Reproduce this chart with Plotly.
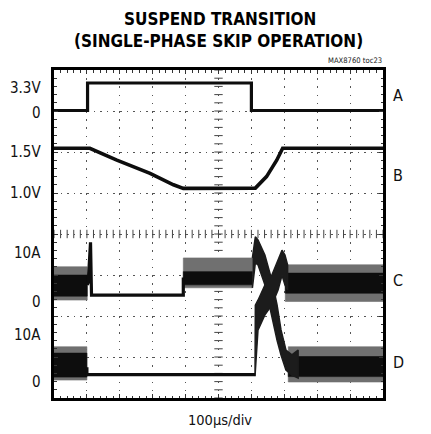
import plotly.graph_objects as go

# ---------------- data read from the scope capture ----------------
# time axis in microseconds (100 us/div, 10 divisions)
a_t = [0, 102, 102, 600, 600, 1000]
a_v = [0.0, 0.0, 3.3, 3.3, 0.0, 0.0]

b_t = [0, 109, 191, 292, 363, 393, 612, 646, 677, 695, 1000]
b_v = [1.545, 1.545, 1.40, 1.24, 1.10, 1.057, 1.06, 1.20, 1.40, 1.545, 1.545]

# channel C (A): clean parts
c_line_t = [101, 104, 111, 114, 393, 393]
c_line_v = [3.5, 4.0, 12.2, 1.4, 1.4, 5.0]
# channel C switching-ripple envelopes
c_noise_t0 = [0, 393, 703]
c_noise_t1 = [101, 603, 1000]
c_outer_lo = [0.4, 2.9, 0.1]
c_outer_hi = [7.2, 9.0, 7.6]
c_inner_lo = [1.2, 3.5, 1.8]
c_inner_hi = [5.5, 6.2, 5.9]
# channel C transient (falling branch of the crossing)
c_cross_t = [603, 612, 620, 641, 662, 678, 690, 705, 723, 742]
c_cross_hi = [9.0, 13.3, 12.7, 9.6, 4.5, -0.6, -5.7, -9.8, -10.8, -9.8]
c_cross_lo = [2.9, 8.0, 7.6, 3.5, -2.7, -7.8, -10.8, -13.9, -14.9, -15.5]

# channel D (A): clean parts
d_line_t = [100, 100, 612]
d_line_v = [3.0, 1.5, 1.5]
d_noise_t0 = [0, 712]
d_noise_t1 = [100, 1000]
d_outer_lo = [0.4, 0.0]
d_outer_hi = [7.2, 7.2]
d_inner_lo = [1.0, 1.1]
d_inner_hi = [5.9, 5.2]
# channel D transient (rising branch of the crossing)
d_cross_t = [611, 612, 620, 641, 662, 681, 693, 702, 710]
d_cross_hi = [1.8, 15.7, 16.7, 19.8, 21.8, 24.9, 26.9, 25.9, 23.9]
d_cross_lo = [1.2, 1.2, 10.6, 13.7, 15.7, 18.8, 21.8, 19.8, 18.8]

left_labels = ["3.3V", "0", "1.5V", "1.0V", "10A", "0", "10A", "0"]
right_labels = ["A", "B", "C", "D"]

# ---------------- screen placement (divisions) ----------------
CH = {"A": (7.012, 0.2032), "B": (3.0, 2.0), "C": (2.341, 0.1195), "D": (0.390, 0.1195)}


def scr(ch, vals):
    off, sc = CH[ch]
    return [off + sc * v for v in vals]


OFF = 8                      # page body margin of the browser
L, R, T, B = 54, 383, 70, 398  # plot frame in window pixels
W, H = 431 - OFF, 434 - OFF


def px_x(px):
    return (px - L) / (R - L)


def px_y(py):
    return (B - py) / (B - T)


left_label_py = [88, 113, 152, 193, 253, 302, 335, 382]
right_label_py = [96, 175, 280, 362]

INK = "#0d0d0d"
GREY = "#707070"
FONT = "DejaVu Sans Condensed, Liberation Sans, sans-serif"

fig = go.Figure()

# centre cross-hair tick marks
fig.add_trace(go.Scatter(x=[t for t in range(0, 1001, 20)], y=[4] * 51, mode="markers",
                         marker=dict(symbol="line-ns", size=6, line=dict(width=1, color="#444")),
                         hoverinfo="skip", showlegend=False))
fig.add_trace(go.Scatter(x=[500] * 41, y=[i * 0.2 for i in range(41)], mode="markers",
                         marker=dict(symbol="line-ew", size=6, line=dict(width=1, color="#444")),
                         hoverinfo="skip", showlegend=False))


def add_box(ch, t0, t1, lo, hi, color):
    ys = scr(ch, [lo, lo, hi, hi, lo])
    fig.add_trace(go.Scatter(x=[t0, t1, t1, t0, t0], y=ys, mode="lines", fill="toself",
                             fillcolor=color, line=dict(width=0.6, color=color),
                             hoverinfo="skip", showlegend=False))


def add_poly(ch, t, lo, hi, color):
    xs = list(t) + list(t)[::-1]
    ys = scr(ch, list(hi) + list(lo)[::-1])
    fig.add_trace(go.Scatter(x=xs, y=ys, mode="lines", fill="toself", fillcolor=color,
                             line=dict(width=1.5, color=color), hoverinfo="skip", showlegend=False))


for i in range(len(c_noise_t0)):
    add_box("C", c_noise_t0[i], c_noise_t1[i], c_outer_lo[i], c_outer_hi[i], GREY)
    add_box("C", c_noise_t0[i], c_noise_t1[i], c_inner_lo[i], c_inner_hi[i], INK)
for i in range(len(d_noise_t0)):
    add_box("D", d_noise_t0[i], d_noise_t1[i], d_outer_lo[i], d_outer_hi[i], GREY)
    add_box("D", d_noise_t0[i], d_noise_t1[i], d_inner_lo[i], d_inner_hi[i], INK)

add_poly("C", c_cross_t, c_cross_lo, c_cross_hi, "#1c1c1c")
add_poly("D", d_cross_t, d_cross_lo, d_cross_hi, "#1c1c1c")

for ch, t, v, w in [("A", a_t, a_v, 3.2), ("B", b_t, b_v, 3.6),
                    ("C", c_line_t, c_line_v, 3.2), ("D", d_line_t, d_line_v, 3.2)]:
    fig.add_trace(go.Scatter(x=t, y=scr(ch, v), mode="lines", line=dict(width=w, color=INK),
                             hoverinfo="skip", showlegend=False))

ann = []
for txt, py in zip(left_labels, left_label_py):
    ann.append(dict(text=txt, x=px_x(43), y=px_y(py), xref="paper", yref="paper",
                    xanchor="right", yanchor="middle", showarrow=False,
                    font=dict(family=FONT, size=15, color="#111")))
for txt, py in zip(right_labels, right_label_py):
    ann.append(dict(text=txt, x=px_x(398), y=px_y(py), xref="paper", yref="paper",
                    xanchor="center", yanchor="middle", showarrow=False,
                    font=dict(family=FONT, size=16, color="#111")))
ann.append(dict(text="<b>SUSPEND TRANSITION</b>", x=px_x(220), y=px_y(19.5), xref="paper",
                yref="paper", xanchor="center", yanchor="middle", showarrow=False,
                font=dict(family=FONT, size=17, color="#000")))
ann.append(dict(text="<b>(SINGLE-PHASE SKIP OPERATION)</b>", x=px_x(218.5), y=px_y(41.5),
                xref="paper", yref="paper", xanchor="center", yanchor="middle", showarrow=False,
                font=dict(family=FONT, size=17, color="#000")))
ann.append(dict(text="MAX8760 toc23", x=px_x(384), y=px_y(60.5), xref="paper", yref="paper",
                xanchor="right", yanchor="middle", showarrow=False,
                font=dict(family=FONT, size=7.6, color="#222")))
ann.append(dict(text="100µs/div", x=px_x(220), y=px_y(420), xref="paper", yref="paper",
                xanchor="center", yanchor="middle", showarrow=False,
                font=dict(family=FONT, size=14.5, color="#111")))

axis_common = dict(showline=True, linecolor="#000", linewidth=3, mirror="allticks",
                   ticks="inside", ticklen=4, tickwidth=1, tickcolor="#333",
                   showticklabels=False, zeroline=False, showgrid=True,
                   gridcolor="#555", gridwidth=1, fixedrange=True)

fig.update_layout(
    width=W, height=H,
    margin=dict(l=L - OFF, r=W - (R - OFF), t=T - OFF, b=H - (B - OFF)),
    paper_bgcolor="white", plot_bgcolor="white",
    xaxis=dict(range=[0, 1000], tick0=0, dtick=100, griddash="1.5px,6.7px",
               minor=dict(ticks="inside", ticklen=2.5, dtick=20, tickcolor="#333", showgrid=False),
               **axis_common),
    yaxis=dict(range=[0, 8], tick0=0, dtick=1, griddash="1.5px,5.1px",
               minor=dict(ticks="inside", ticklen=2.5, dtick=0.2, tickcolor="#333", showgrid=False),
               **axis_common),
    annotations=ann,
    showlegend=False,
)

fig.write_html("out.html")
